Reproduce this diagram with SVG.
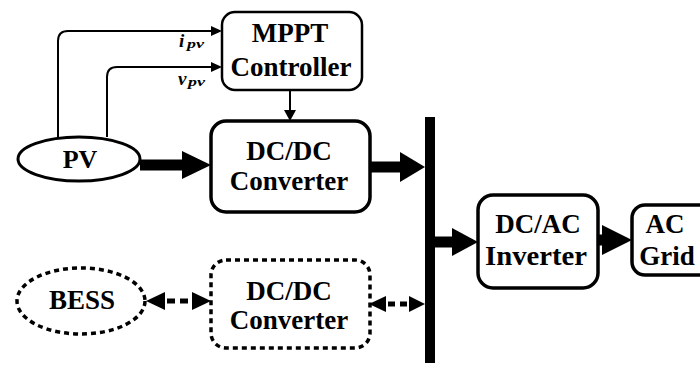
<svg xmlns="http://www.w3.org/2000/svg" width="700" height="365" viewBox="0 0 700 365">
<style>
text{font-family:'Liberation Serif','Times New Roman',serif;font-weight:700;fill:#000}
.t{text-anchor:middle;font-size:27px}
.box{fill:#fff;stroke:#000;stroke-width:3.5}
.dash{fill:#fff;stroke:#000;stroke-width:3.5;stroke-dasharray:5 4}
.wire{fill:none;stroke:#000;stroke-width:2}
.thick{stroke:#000;stroke-width:11}
.dl{stroke:#000;stroke-width:5;stroke-dasharray:8 5}
.lbl{font-style:italic}
</style>
<rect width="700" height="365" fill="#fff"/>
<g id="connectors">
  <path class="wire" d="M58,137 V41 Q58,31 68,31 H212"/>
  <polygon points="211,26 222,31 211,36"/>
  <path class="wire" d="M107,137 V77 Q107,67 117,67 H212"/>
  <polygon points="211,62 222,67 211,72"/>
  <line class="wire" x1="290" y1="90" x2="290" y2="112"/>
  <polygon points="284,110 290,121 296,110"/>
  <line class="thick" x1="140" y1="165" x2="184" y2="165"/>
  <polygon points="182,151 211,165 182,179"/>
  <line class="thick" x1="370" y1="167" x2="402" y2="167"/>
  <polygon points="400,152 425,167 400,182"/>
  <line class="thick" x1="435" y1="242" x2="454" y2="242"/>
  <polygon points="452,228 478,242 452,256"/>
  <line class="thick" x1="598" y1="240" x2="604" y2="240"/>
  <polygon points="602,225 632,240 602,255"/>
  <line class="dl" x1="166" y1="301" x2="192" y2="301" style="stroke-dasharray:0 1 8 5 8 4"/>
  <polygon points="146,301 165,292 165,310"/>
  <polygon points="211,301 192,292 192,310"/>
  <line class="dl" x1="386" y1="304" x2="409" y2="304" style="stroke-dasharray:0 2 7 5 7 4"/>
  <polygon points="369,304 386,296 386,312"/>
  <polygon points="425,304 409,296 409,312"/>
</g>
<g id="bus"><rect x="425" y="117" width="10" height="246" fill="#000"/></g>
<g id="pv">
  <ellipse cx="79" cy="159" rx="61" ry="22" fill="#fff" stroke="#000" stroke-width="3"/>
  <text class="t" x="80" y="168" style="font-size:26px">PV</text>
</g>
<g id="mppt">
  <rect x="222" y="12" width="140" height="78" rx="13" fill="#fff" stroke="#000" stroke-width="2.5"/>
  <text class="t" x="290" y="42">MPPT</text>
  <text class="t" x="291" y="76">Controller</text>
</g>
<g id="labels">
  <text class="lbl" x="179" y="47" font-size="19">i<tspan x="187" dy="1" font-size="13" textLength="17" lengthAdjust="spacingAndGlyphs">pv</tspan></text>
  <text class="lbl" x="178" y="85" font-size="19">v<tspan x="188" dy="1" font-size="13" textLength="17" lengthAdjust="spacingAndGlyphs">pv</tspan></text>
</g>
<g id="dcdc1">
  <rect x="211" y="121" width="159" height="91" rx="15" class="box"/>
  <text class="t" x="289" y="160">DC/DC</text>
  <text class="t" x="289" y="190">Converter</text>
</g>
<g id="bess">
  <ellipse cx="81" cy="301" rx="64" ry="33" class="dash"/>
  <text class="t" x="82" y="309">BESS</text>
</g>
<g id="dcdc2">
  <rect x="211" y="260" width="159" height="88" rx="15" class="dash"/>
  <text class="t" x="289" y="300">DC/DC</text>
  <text class="t" x="289" y="329">Converter</text>
</g>
<g id="dcac">
  <rect x="478" y="195" width="120" height="93" rx="15" class="box"/>
  <text class="t" x="538" y="233">DC/AC</text>
  <text class="t" x="536" y="265" textLength="102" lengthAdjust="spacingAndGlyphs">Inverter</text>
</g>
<g id="acgrid">
  <rect x="632" y="205" width="90" height="70" rx="13" class="box"/>
  <text class="t" x="665" y="233">AC</text>
  <text class="t" x="667" y="265">Grid</text>
</g>
</svg>
